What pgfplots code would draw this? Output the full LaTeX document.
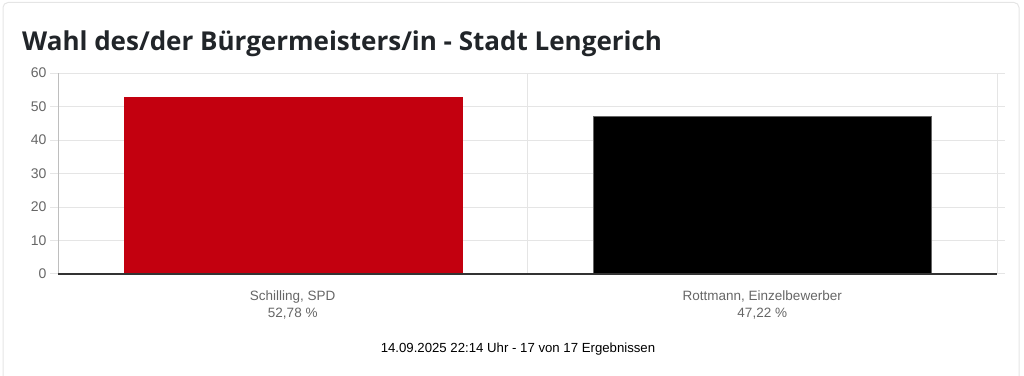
\documentclass[border=0pt]{standalone}
\usepackage{pgfplots}
\pgfplotsset{compat=1.18}
\usepackage{fontspec}
\setmainfont{Liberation Sans}
\newfontfamily\titlefont{Open Sans}
\definecolor{barred}{RGB}{195,0,15}
\definecolor{gridc}{RGB}{229,229,229}
\definecolor{axc}{RGB}{190,190,190}
\definecolor{tickc}{RGB}{102,102,102}
\definecolor{titlec}{RGB}{33,37,41}
\begin{document}
\begin{tikzpicture}
\path[use as bounding box] (0bp,0bp) rectangle (1024bp,376bp);
\draw[rounded corners=5bp, color=gridc, line width=1bp] (3bp,-10bp) rectangle (1019bp,373.5bp);
\node[anchor=base west, inner sep=0pt, text=titlec, font=\titlefont\bfseries\fontsize{26bp}{30bp}\selectfont] at (22bp,325bp) {Wahl des/der Bürgermeisters/in - Stadt Lengerich};
\begin{axis}[
  at={(58bp,102bp)}, anchor=south west,
  scale only axis, width=939bp, height=201bp,
  xmin=-0.5, xmax=1.5, ymin=0, ymax=60,
  ytick={0,10,...,60},
  xtick={0,1},
  xticklabels={{Schilling, SPD\\52,78 \%},{Rottmann, Einzelbewerber\\47,22 \%}},
  xticklabel style={align=center, text=tickc, font=\fontsize{13.5bp}{17bp}\selectfont, yshift=-5bp},
  yticklabel style={text=tickc, font=\fontsize{14bp}{16bp}\selectfont},
  /pgf/number format/assume math mode=true,
  x tick style={draw=none},
  major tick length=8bp,
  tick align=outside,
  y tick style={draw=gridc, line width=1bp},
  ymajorgrids, grid style={draw=gridc, line width=1bp},
  axis line style={draw=gridc, line width=1bp},
  extra x ticks={-0.5,0.5,1.5},
  extra x tick labels={},
  extra x tick style={grid=major, major tick length=11bp, tick style={draw=gridc, line width=1bp}},
  ybar, bar width=0.72, bar shift=0pt,
  clip=false,
]
\addplot[fill=barred, draw=barred, bar shift=0pt] coordinates {(0,52.78)};
\addplot[fill=black, draw=black!60, bar shift=0pt] coordinates {(1,47.22)};
\draw[axc, line width=1bp] (axis cs:-0.5,0) -- (axis cs:-0.5,60);
\draw[black!80, line width=1.2bp] (axis cs:-0.5,0) -- (axis cs:1.5,0);
\end{axis}
\node[anchor=base, inner sep=0pt, font=\fontsize{13.2bp}{15bp}\selectfont] at (518bp,24bp) {14.09.2025 22:14 Uhr - 17 von 17 Ergebnissen};
\end{tikzpicture}
\end{document}
